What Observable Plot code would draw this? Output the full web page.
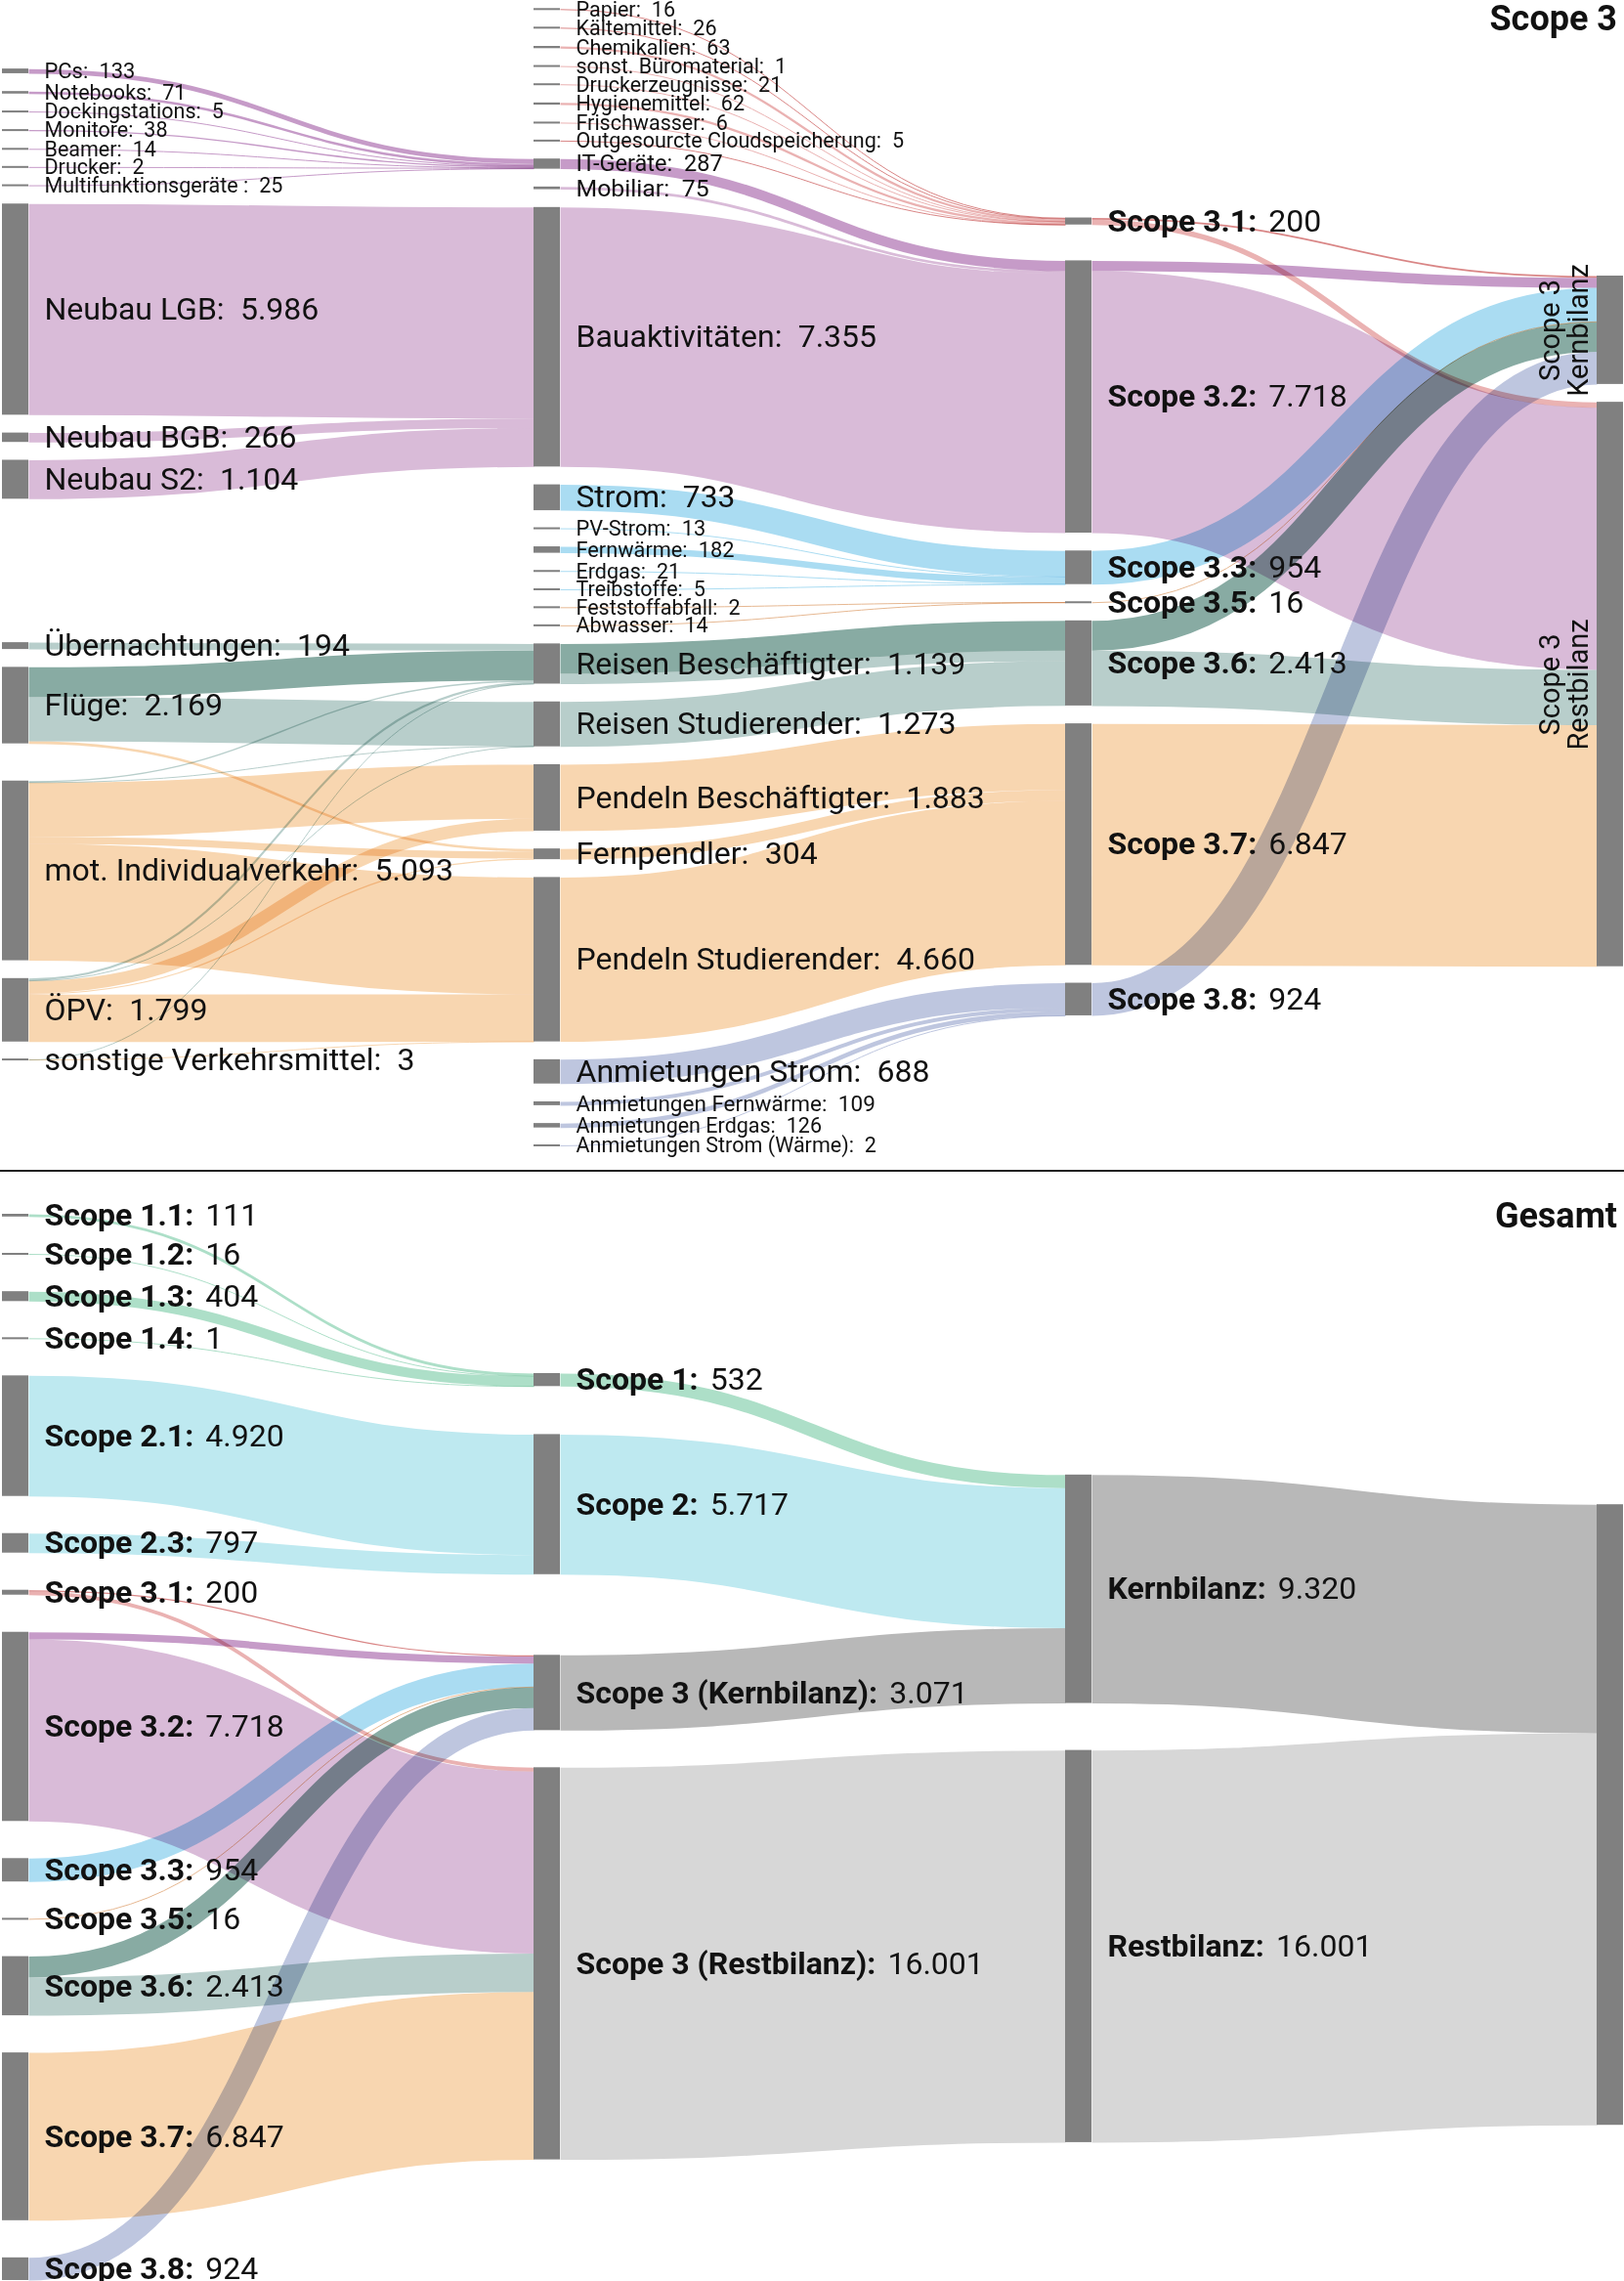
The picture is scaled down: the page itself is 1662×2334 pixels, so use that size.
<!DOCTYPE html>
<html><head><meta charset="utf-8">
<script src="https://cdn.jsdelivr.net/npm/d3@7"></script>
<script src="https://cdn.jsdelivr.net/npm/@observablehq/plot@0.6"></script>
<style>
html,body{margin:0;padding:0;background:#fff;}
body{width:1662px;font-family:Roboto,"Noto Sans",sans-serif;}
.panel{position:relative;width:1662px;overflow:hidden;}
.panel svg{display:block;}
.title{position:absolute;right:7px;font-weight:700;font-size:36px;color:#111;line-height:1;z-index:2;}
.sep{height:2px;background:#222;width:1662px;}
g[aria-label="link"] path{mix-blend-mode:multiply;}
</style></head><body>
<div id="top" class="panel" style="height:1197px"><div class="title" style="top:1px">Scope 3</div></div>
<div class="sep"></div>
<div id="bottom" class="panel" style="height:1135px"><div class="title" style="top:27px">Gesamt</div></div>
<script>
// ---------------- DATA ----------------
const topNodeNames = [
  "PCs","Notebooks","Dockingstations","Monitore","Beamer","Drucker","Multifunktionsgeräte ",
  "Neubau LGB","Neubau BGB","Neubau S2","Übernachtungen","Flüge","mot. Individualverkehr","ÖPV","sonstige Verkehrsmittel",
  "Papier","Kältemittel","Chemikalien","sonst. Büromaterial","Druckerzeugnisse","Hygienemittel","Frischwasser","Outgesourcte Cloudspeicherung",
  "IT-Geräte","Mobiliar","Bauaktivitäten","Strom","PV-Strom","Fernwärme","Erdgas","Treibstoffe","Feststoffabfall","Abwasser",
  "Reisen Beschäftigter","Reisen Studierender","Pendeln Beschäftigter","Fernpendler","Pendeln Studierender",
  "Anmietungen Strom","Anmietungen Fernwärme","Anmietungen Erdgas","Anmietungen Strom (Wärme)",
  "Scope 3.1","Scope 3.2","Scope 3.3","Scope 3.5","Scope 3.6","Scope 3.7","Scope 3.8",
  "Scope 3 Kernbilanz","Scope 3 Restbilanz"
];
const topNodeValues = [
  133,71,5,38,14,2,25,
  5986,266,1104,194,2169,5093,1799,3,
  16,26,63,1,21,62,6,5,
  287,75,7355,733,13,182,21,5,2,14,
  1139,1273,1883,304,4660,
  688,109,126,2,
  200,7718,954,16,2413,6847,924,
  3071,16001
];
const topBoldNodes = ["Scope 3.1","Scope 3.2","Scope 3.3","Scope 3.5","Scope 3.6","Scope 3.7","Scope 3.8"];
const topVerticalNodes = ["Scope 3 Kernbilanz","Scope 3 Restbilanz"];

// flows: [source, target, value, colour key]
const topFlows = [
  ["PCs","IT-Geräte",133,"s32k"],["Notebooks","IT-Geräte",71,"s32k"],["Dockingstations","IT-Geräte",5,"s32k"],
  ["Monitore","IT-Geräte",38,"s32k"],["Beamer","IT-Geräte",14,"s32k"],["Drucker","IT-Geräte",2,"s32k"],
  ["Multifunktionsgeräte ","IT-Geräte",25,"s32k"],
  ["Neubau LGB","Bauaktivitäten",5986,"s32r"],["Neubau BGB","Bauaktivitäten",266,"s32r"],["Neubau S2","Bauaktivitäten",1104,"s32r"],
  ["Übernachtungen","Reisen Beschäftigter",194,"s36r"],
  ["Flüge","Reisen Beschäftigter",844,"s36k"],["Flüge","Reisen Studierender",1253,"s36r"],["Flüge","Fernpendler",72,"s37"],
  ["mot. Individualverkehr","Reisen Beschäftigter",39,"s36r"],["mot. Individualverkehr","Reisen Studierender",10,"s36r"],
  ["mot. Individualverkehr","Pendeln Beschäftigter",1533,"s37"],["mot. Individualverkehr","Fernpendler",200,"s37"],
  ["mot. Individualverkehr","Pendeln Studierender",3311,"s37"],
  ["ÖPV","Reisen Beschäftigter",60,"s36r"],["ÖPV","Reisen Studierender",10,"s36r"],
  ["ÖPV","Pendeln Beschäftigter",350,"s37"],["ÖPV","Fernpendler",32,"s37"],["ÖPV","Pendeln Studierender",1347,"s37"],
  ["sonstige Verkehrsmittel","Reisen Beschäftigter",1,"s36r"],["sonstige Verkehrsmittel","Pendeln Studierender",2,"s37"],
  ["Papier","Scope 3.1",16,"s31k"],["Kältemittel","Scope 3.1",26,"s31k"],["Chemikalien","Scope 3.1",63,"s31r"],
  ["sonst. Büromaterial","Scope 3.1",1,"s31r"],["Druckerzeugnisse","Scope 3.1",21,"s31r"],["Hygienemittel","Scope 3.1",62,"s31r"],
  ["Frischwasser","Scope 3.1",6,"s31r"],["Outgesourcte Cloudspeicherung","Scope 3.1",5,"s31k"],
  ["IT-Geräte","Scope 3.2",287,"s32k"],["Mobiliar","Scope 3.2",75,"s32r"],["Bauaktivitäten","Scope 3.2",7355,"s32r"],
  ["Strom","Scope 3.3",733,"s33"],["PV-Strom","Scope 3.3",13,"s33"],["Fernwärme","Scope 3.3",182,"s33"],
  ["Erdgas","Scope 3.3",21,"s33"],["Treibstoffe","Scope 3.3",5,"s33"],
  ["Feststoffabfall","Scope 3.5",2,"s35"],["Abwasser","Scope 3.5",14,"s35"],
  ["Reisen Beschäftigter","Scope 3.6",844,"s36k"],["Reisen Beschäftigter","Scope 3.6",295,"s36r"],
  ["Reisen Studierender","Scope 3.6",1273,"s36r"],
  ["Pendeln Beschäftigter","Scope 3.7",1883,"s37"],["Fernpendler","Scope 3.7",304,"s37"],["Pendeln Studierender","Scope 3.7",4660,"s37"],
  ["Anmietungen Strom","Scope 3.8",688,"s38"],["Anmietungen Fernwärme","Scope 3.8",109,"s38"],
  ["Anmietungen Erdgas","Scope 3.8",126,"s38"],["Anmietungen Strom (Wärme)","Scope 3.8",2,"s38"],
  ["Scope 3.1","Scope 3 Kernbilanz",47,"s31k"],["Scope 3.1","Scope 3 Restbilanz",153,"s31r"],
  ["Scope 3.2","Scope 3 Kernbilanz",287,"s32k"],["Scope 3.2","Scope 3 Restbilanz",7431,"s32r"],
  ["Scope 3.3","Scope 3 Kernbilanz",954,"s33"],
  ["Scope 3.5","Scope 3 Kernbilanz",16,"s35"],
  ["Scope 3.6","Scope 3 Kernbilanz",844,"s36k"],["Scope 3.6","Scope 3 Restbilanz",1569,"s36r"],
  ["Scope 3.7","Scope 3 Restbilanz",6847,"s37"],
  ["Scope 3.8","Scope 3 Kernbilanz",924,"s38"]
];

const bottomNodeNames = [
  "Scope 1.1","Scope 1.2","Scope 1.3","Scope 1.4","Scope 2.1","Scope 2.3",
  "Scope 3.1","Scope 3.2","Scope 3.3","Scope 3.5","Scope 3.6","Scope 3.7","Scope 3.8",
  "Scope 1","Scope 2","Scope 3 (Kernbilanz)","Scope 3 (Restbilanz)",
  "Kernbilanz","Restbilanz","Gesamtbilanz"
];
const bottomNodeValues = [111,16,404,1,4920,797,200,7718,954,16,2413,6847,924,532,5717,3071,16001,9320,16001,25321];
const bottomUnlabelled = ["Gesamtbilanz"];
const bottomFlows = [
  ["Scope 1.1","Scope 1",111,"s1"],["Scope 1.2","Scope 1",16,"s1"],["Scope 1.3","Scope 1",404,"s1"],["Scope 1.4","Scope 1",1,"s1"],
  ["Scope 2.1","Scope 2",4920,"s2"],["Scope 2.3","Scope 2",797,"s2"],
  ["Scope 3.1","Scope 3 (Kernbilanz)",47,"s31k"],["Scope 3.1","Scope 3 (Restbilanz)",153,"s31r"],
  ["Scope 3.2","Scope 3 (Kernbilanz)",287,"s32k"],["Scope 3.2","Scope 3 (Restbilanz)",7431,"s32r"],
  ["Scope 3.3","Scope 3 (Kernbilanz)",954,"s33"],
  ["Scope 3.5","Scope 3 (Kernbilanz)",16,"s35"],
  ["Scope 3.6","Scope 3 (Kernbilanz)",844,"s36k"],["Scope 3.6","Scope 3 (Restbilanz)",1569,"s36r"],
  ["Scope 3.7","Scope 3 (Restbilanz)",6847,"s37"],
  ["Scope 3.8","Scope 3 (Kernbilanz)",924,"s38"],
  ["Scope 1","Kernbilanz",532,"s1"],["Scope 2","Kernbilanz",5717,"s2"],
  ["Scope 3 (Kernbilanz)","Kernbilanz",3071,"gk"],["Scope 3 (Restbilanz)","Restbilanz",16001,"gr"],
  ["Kernbilanz","Gesamtbilanz",9320,"gk"],["Restbilanz","Gesamtbilanz",16001,"gr"]
];

const COLORS = {
  s31k:"#d98686", s31r:"#eab2b2", s32k:"#c69bc8", s32r:"#d9bbd8", s33:"#aadcf2", s35:"#e6b892",
  s36k:"#88aba3", s36r:"#b8cecb", s37:"#f8d6b0", s38:"#bec6df",
  s1:"#addfc8", s2:"#bee9f0", gk:"#b8b8b8", gr:"#d7d7d7"
};

// ---------------- LAYOUT ----------------
// Right-aligned sankey; node and link input order kept. Each node is moved to the
// flow-weighted position that makes its links flat (both sides), overlaps are then
// resolved by weighted isotonic regression so heavy nodes move less than light ones.
function pav(z, w) {
  const blocks = [];
  for (let i = 0; i < z.length; i++) {
    blocks.push({s: w[i] * z[i], w: w[i], n: 1});
    while (blocks.length > 1) {
      const b = blocks[blocks.length - 1], a = blocks[blocks.length - 2];
      if (a.s / a.w > b.s / b.w) { a.s += b.s; a.w += b.w; a.n += b.n; blocks.pop(); } else break;
    }
  }
  const out = [];
  for (const b of blocks) for (let k = 0; k < b.n; k++) out.push(b.s / b.w);
  return out;
}

function sankey(ids, flows, o) {
  const {x0, x1, y0, y1, dx, dy, iterations} = o;
  const nodes = ids.map((id, index) => ({id, index, sourceLinks: [], targetLinks: []}));
  const byId = new Map(nodes.map(n => [n.id, n]));
  const links = flows.map(([s, t, value, color], index) => {
    const l = {index, source: byId.get(s), target: byId.get(t), value, color};
    l.source.sourceLinks.push(l); l.target.targetLinks.push(l);
    return l;
  });
  for (const n of nodes) n.value = Math.max(d3.sum(n.sourceLinks, l => l.value), d3.sum(n.targetLinks, l => l.value));
  let cur = new Set(nodes), nxt = new Set, k = 0;
  while (cur.size) { for (const n of cur) { n.depth = k; for (const l of n.sourceLinks) nxt.add(l.target); } k++; cur = nxt; nxt = new Set; }
  cur = new Set(nodes); nxt = new Set; k = 0;
  while (cur.size) { for (const n of cur) { n.height = k; for (const l of n.targetLinks) nxt.add(l.source); } k++; cur = nxt; nxt = new Set; }
  const X = d3.max(nodes, n => n.depth) + 1;
  const kx = (x1 - x0 - dx) / (X - 1);
  const columns = Array.from({length: X}, () => []);
  for (const n of nodes) {
    const i = Math.max(0, Math.min(X - 1, Math.floor(X - 1 - n.height)));
    n.layer = i; n.x0 = x0 + i * kx; n.x1 = n.x0 + dx;
    columns[i].push(n);
  }
  const py = Math.min(dy, (y1 - y0) / (d3.max(columns, c => c.length) - 1));
  const ky = d3.min(columns, c => (y1 - y0 - (c.length - 1) * py) / d3.sum(c, n => n.value));
  for (const col of columns) {
    let y = y0;
    for (const n of col) { n.y0 = y; n.y1 = y + n.value * ky; y = n.y1 + py; for (const l of n.sourceLinks) l.width = l.value * ky; }
    y = (y1 - y + py) / (col.length + 1);
    col.forEach((n, i) => { n.y0 += y * (i + 1); n.y1 += y * (i + 1); });
  }
  // offset of a link inside its source / target node
  const outOffset = l => { let y = 0; for (const m of l.source.sourceLinks) { if (m === l) break; y += m.width; } return y; };
  const inOffset = l => { let y = 0; for (const m of l.target.targetLinks) { if (m === l) break; y += m.width; } return y; };
  for (const l of links) { l.oOut = outOffset(l); l.oIn = inOffset(l); }
  const resolve = col => {
    const items = [{h: 0, y: y0 - py, w: 1e9}, ...col.map(n => ({h: n.y1 - n.y0, y: n.y0, w: Math.max(n.wt || n.value, 1e-3)})), {h: 0, y: y1 + py, w: 1e9}];
    let c = 0; const z = [], w = [];
    for (const it of items) { z.push(it.y - c); w.push(it.w); c += it.h + py; }
    const zz = pav(z, w);
    c = 0;
    items.forEach((it, i) => { it.y = zz[i] + c; c += it.h + py; });
    col.forEach((n, i) => { const h = n.y1 - n.y0; n.y0 = items[i + 1].y; n.y1 = n.y0 + h; });
  };
  const relax = col => {
    for (const n of col) {
      let y = 0, w = 0;
      for (const l of n.targetLinks) { y += (l.source.y0 + l.oOut - l.oIn) * l.value; w += l.value; }
      for (const l of n.sourceLinks) { y += (l.target.y0 + l.oIn - l.oOut) * l.value; w += l.value; }
      n.wt = w;
      if (!(w > 0)) continue;
      const h = n.y1 - n.y0; n.y0 = y / w; n.y1 = n.y0 + h;
    }
    resolve(col);
  };
  for (let it = 0; it < iterations; ++it) {
    const order = it % 2 ? d3.range(X - 1, -1, -1) : d3.range(X);
    for (const i of order) relax(columns[i]);
  }
  for (const l of links) { l.y0 = l.source.y0 + l.oOut + l.width / 2; l.y1 = l.target.y0 + l.oIn + l.width / 2; }
  return {nodes, links, columns};
}

// ---------------- LABELS ----------------
const fmt = d3.formatLocale({decimal: ",", thousands: ".", grouping: [3], currency: ["", " €"]}).format(",d");
const ctx = document.createElement("canvas").getContext("2d");
const FONT = "Roboto";
const tw = (s, fs, w) => { ctx.font = `${w} ${fs}px ${FONT}`; return ctx.measureText(s).width; };
const mid = n => (n.y0 + n.y1) / 2;

function autoSizes(col) {
  const s = [...col].sort((a, b) => a.y0 - b.y0);
  s.forEach((n, i) => {
    const upD = i > 0 ? mid(n) - mid(s[i - 1]) : Infinity;
    const dnD = i < s.length - 1 ? mid(s[i + 1]) - mid(n) : Infinity;
    n.fs = Math.max(21.5, Math.min(32, Math.min(upD, dnD)));
  });
}

function buildLabels(layout, names, values, boldSet, skipSet, boldSize) {
  const plain = [], boldName = [], boldVal = [];
  for (const n of layout.nodes) {
    if (skipSet.has(n.id)) continue;
    const v = fmt(values[names.indexOf(n.id)]);
    const x = n.x1 + 16, y = mid(n);
    if (boldSet.has(n.id)) {
      const t = n.id + ":";
      boldName.push({x, y, text: t, fs: boldSize});
      boldVal.push({x: x + tw(t, boldSize, "bold") + boldSize * 0.38, y, text: v, fs: boldSize});
    } else {
      plain.push({x, y, text: `${n.id}:\u2002${v}`, fs: n.fs});
    }
  }
  return {plain, boldName, boldVal};
}

function draw(layout, lab, vlab, height) {
  return Plot.plot({
    width: 1662, height, margin: 0,
    x: {type: "identity", axis: null}, y: {type: "identity", axis: null},
    color: {type: "identity"},
    style: {fontFamily: `${FONT}, sans-serif`, background: "transparent", overflow: "visible"},
    marks: [
      Plot.link(layout.links, {
        x1: d => d.source.x1, y1: d => d.y0, x2: d => d.target.x0, y2: d => d.y1,
        curve: "bump-x", stroke: d => COLORS[d.color], strokeWidth: d => Math.max(1, d.width),
        strokeLinecap: "butt", strokeOpacity: 1, mixBlendMode: "multiply"
      }),
      Plot.rect(layout.nodes, {
        x1: d => d.x0, x2: d => d.x1,
        y1: d => Math.min(d.y0, mid(d) - 1), y2: d => Math.max(d.y1, mid(d) + 1),
        fill: "#808080"
      }),
      Plot.text(lab.plain, {x: "x", y: "y", text: "text", fontSize: "fs", textAnchor: "start", fill: "#111"}),
      Plot.text(lab.boldName, {x: "x", y: "y", text: "text", fontSize: "fs", fontWeight: "bold", textAnchor: "start", fill: "#111"}),
      Plot.text(lab.boldVal, {x: "x", y: "y", text: "text", fontSize: "fs", textAnchor: "start", fill: "#111"}),
      Plot.text(vlab, {x: "x", y: "y", text: "text", fontSize: 29, rotate: -90, textAnchor: "middle", lineAnchor: "bottom", fill: "#111"})
    ]
  });
}

// Upper chart
const topLayout = sankey(topNodeNames, topFlows, {x0: 2, x1: 1661, y0: 9, y1: 1172, dx: 27, dy: 18.25, iterations: 200});
autoSizes(topLayout.columns[0]); autoSizes(topLayout.columns[1]);
const topLab = buildLabels(topLayout, topNodeNames, topNodeValues, new Set(topBoldNodes), new Set(topVerticalNodes), 32);
const topV = topLayout.nodes.filter(n => topVerticalNodes.includes(n.id))
  .map(n => ({x: n.x0 - 10, y: mid(n), text: n.id.replace("Scope 3 ", "Scope 3\n")}));
document.getElementById("top").appendChild(draw(topLayout, topLab, topV, 1197));

// Lower chart
const botLayout = sankey(bottomNodeNames, bottomFlows, {x0: 2, x1: 1661, y0: 43, y1: 1134, dx: 27, dy: 38, iterations: 200});
const botLab = buildLabels(botLayout, bottomNodeNames, bottomNodeValues, new Set(bottomNodeNames), new Set(bottomUnlabelled), 32);
document.getElementById("bottom").appendChild(draw(botLayout, botLab, [], 1135));
</script>
</body></html>
